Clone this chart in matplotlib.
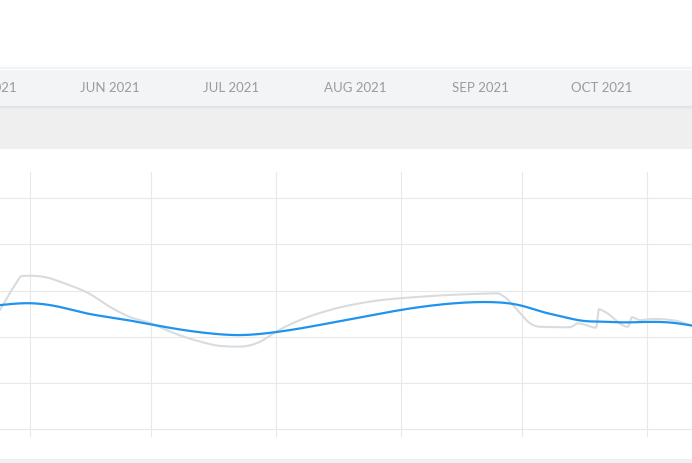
import numpy as np
import pandas as pd
import matplotlib
matplotlib.use("Agg")
import matplotlib.pyplot as plt
import matplotlib.dates as mdates
from matplotlib.patches import Rectangle

# ---------------- data ----------------
month_labels = ["MAY 2021", "JUN 2021", "JUL 2021", "AUG 2021", "SEP 2021", "OCT 2021"]
month_starts = ["2021-05-01", "2021-06-01", "2021-07-01", "2021-08-01",
                "2021-09-01", "2021-10-01"]
grid_months = ["2021-06-01", "2021-07-01", "2021-08-01", "2021-09-01",
               "2021-10-01", "2021-11-01"]

raw_dates = ["2021-05-24 12:00", "2021-05-28 05:00", "2021-05-29 22:00", "2021-06-01 00:00",
             "2021-06-05 22:00", "2021-06-08 09:00", "2021-06-15 19:00", "2021-06-20 19:00",
             "2021-06-25 18:00", "2021-07-01 00:00", "2021-07-05 17:00", "2021-07-13 02:00",
             "2021-07-18 02:00", "2021-07-23 00:00", "2021-07-28 00:00", "2021-08-01 00:00",
             "2021-08-06 22:00", "2021-08-14 10:00", "2021-08-24 07:00", "2021-09-05 17:00",
             "2021-09-20 14:00", "2021-09-24 19:00", "2021-09-26 19:00", "2021-09-30 12:00",
             "2021-10-03 00:00", "2021-10-05 12:00", "2021-10-12 22:00", "2021-10-14 22:00",
             "2021-10-19 10:00", "2021-10-20 02:00", "2021-10-21 14:00", "2021-10-27 07:00",
             "2021-10-28 07:00", "2021-10-30 07:00", "2021-11-02 07:00", "2021-11-05 12:00",
             "2021-11-09 05:00", "2021-11-12 05:00"]
raw_values = [51.6, 62.4, 66.3, 66.4,
              65.3, 63.8, 58.5, 52.9,
              48.5, 45.8, 42.2, 37.9,
              36.0, 35.7, 37.8, 42.2,
              47.2, 51.6, 55.2, 57.3,
              58.6, 58.8, 57.1, 50.3,
              45.8, 44.3, 44.1, 45.8,
              43.9, 51.9, 50.8, 44.3,
              48.4, 47.2, 47.7, 47.5,
              46.5, 44.6]

trend_dates = ["2021-05-24", "2021-06-01", "2021-06-08", "2021-06-15", "2021-06-23",
               "2021-07-01", "2021-07-09", "2021-07-17", "2021-07-23", "2021-07-28",
               "2021-08-01", "2021-08-07", "2021-08-14", "2021-08-22", "2021-09-01",
               "2021-09-13", "2021-09-23", "2021-10-01", "2021-10-06", "2021-10-11",
               "2021-10-16", "2021-10-21", "2021-10-26", "2021-11-01", "2021-11-07",
               "2021-11-13"]
trend_values = [53.6, 54.5, 53.0, 50.1, 47.8,
                45.3, 42.9, 41.2, 40.7, 41.2,
                42.0, 43.6, 45.8, 48.4, 51.6,
                54.3, 55.0, 53.4, 50.8, 48.7,
                46.9, 46.5, 46.2, 46.4, 46.1,
                44.6]

y_ticks = [0, 20, 40, 60, 80, 100]


def hermite(xs, ys, m, n=2000):
    h = np.diff(xs)
    xx = np.linspace(xs[0], xs[-1], n)
    idx = np.clip(np.searchsorted(xs, xx) - 1, 0, len(xs) - 2)
    t = (xx - xs[idx]) / h[idx]
    h00 = 2 * t**3 - 3 * t**2 + 1
    h10 = t**3 - 2 * t**2 + t
    h01 = -2 * t**3 + 3 * t**2
    h11 = t**3 - t**2
    yy = h00 * ys[idx] + h10 * h[idx] * m[idx] + h01 * ys[idx + 1] + h11 * h[idx] * m[idx + 1]
    return xx, yy


def smooth_limited(xs, ys):
    """3-point derivative, zero at extrema, limited against overshoot."""
    xs = np.asarray(xs, float)
    ys = np.asarray(ys, float)
    h = np.diff(xs)
    d = np.diff(ys) / h
    m = np.zeros_like(ys)
    m[0], m[-1] = d[0], d[-1]
    for k in range(1, len(xs) - 1):
        if d[k - 1] * d[k] <= 0:
            m[k] = 0.0
        else:
            s = (d[k - 1] * h[k] + d[k] * h[k - 1]) / (h[k - 1] + h[k])
            lim = 3 * min(abs(d[k - 1]), abs(d[k]))
            m[k] = np.sign(s) * min(abs(s), lim)
    return hermite(xs, ys, m)


def natural_spline(xs, ys):
    xs = np.asarray(xs, float)
    ys = np.asarray(ys, float)
    n = len(xs)
    h = np.diff(xs)
    A = np.zeros((n, n))
    b = np.zeros(n)
    A[0, 0] = 2; A[0, 1] = 1; b[0] = 3 * (ys[1] - ys[0]) / h[0]
    A[-1, -2] = 1; A[-1, -1] = 2; b[-1] = 3 * (ys[-1] - ys[-2]) / h[-1]
    for k in range(1, n - 1):
        A[k, k - 1] = 1 / h[k - 1]
        A[k, k] = 2 * (1 / h[k - 1] + 1 / h[k])
        A[k, k + 1] = 1 / h[k]
        b[k] = 3 * ((ys[k] - ys[k - 1]) / h[k - 1]**2 + (ys[k + 1] - ys[k]) / h[k]**2)
    m = np.linalg.solve(A, b)
    return hermite(xs, ys, m)


W, H = 692, 463
fig = plt.figure(figsize=(W / 100, H / 100), dpi=100)
fig.patch.set_facecolor("white")


def fy(py):
    return 1 - py / H


# background bands
fig.patches.append(Rectangle((0, fy(149.3)), 1, (149.3 - 105.7) / H, transform=fig.transFigure,
                             facecolor="#efefef", edgecolor="none", zorder=0))
for i, a in enumerate([0.05, 0.035, 0.02]):
    fig.patches.append(Rectangle((0, fy(70 - i - 1)), 1, 1 / H, transform=fig.transFigure,
                                 facecolor="black", alpha=a, edgecolor="none", zorder=0))
    fig.patches.append(Rectangle((0, fy(105.7 + i + 1)), 1, 1 / H, transform=fig.transFigure,
                                 facecolor="black", alpha=a, edgecolor="none", zorder=0))
fig.patches.append(Rectangle((0, 0), 1, (H - 459) / H, transform=fig.transFigure,
                             facecolor="#f0f0f0", edgecolor="none", zorder=0))

# main axes
base = mdates.date2num(pd.Timestamp("2021-06-01"))
x_lo, x_hi = base - 7.52, base + 164.2
ax = fig.add_axes([0, fy(436.7), 1, (436.7 - 171.7) / H])
ax.set_facecolor("white")
ax.set_xticks(mdates.date2num(pd.to_datetime(grid_months)))
ax.set_yticks(y_ticks)
ax.set_xlim(x_lo, x_hi)
ax.set_ylim(-3.34, 111.5)
ax.grid(True, color="#e8e8e8", linewidth=0.8)
ax.tick_params(length=0, labelbottom=False, labelleft=False)
for s in ax.spines.values():
    s.set_visible(False)

rx, ry = smooth_limited(mdates.date2num(pd.to_datetime(raw_dates)), raw_values)
ax.plot(rx, ry, color="#d8dcdf", linewidth=1.5, solid_capstyle="round", zorder=2)
tx, ty = natural_spline(mdates.date2num(pd.to_datetime(trend_dates)), trend_values)
ax.plot(tx, ty, color="#1e94ef", linewidth=1.6, solid_capstyle="round", zorder=3)

# navigator band with month labels
band = fig.add_axes([0, fy(105.7), 1, (105.7 - 70) / H])
band.set_facecolor("#f3f4f6")
shift = 19.7
band.set_xticks([])
band.set_yticks([])
band.set_xlim(x_lo - shift, x_hi - shift)
band.set_ylim(0, 1)
for s in band.spines.values():
    s.set_visible(False)
for lab, ms in zip(month_labels, month_starts):
    band.text(mdates.date2num(pd.Timestamp(ms)), 0.5, lab, ha="center", va="center",
              fontsize=9.5, color="#9b9b9b", family=["Lato", "DejaVu Sans"], clip_on=False)

fig.savefig("out.png", dpi=100)
